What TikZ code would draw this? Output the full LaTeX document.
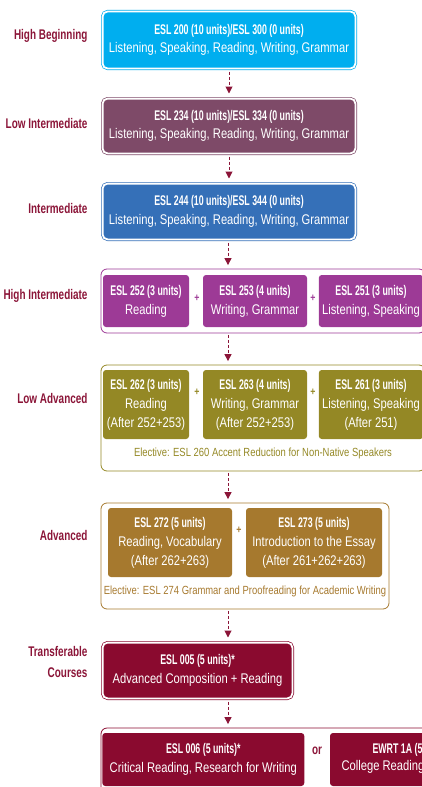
\documentclass[tikz,border=0pt]{standalone}
\usepackage{fontspec}
\setmainfont{Liberation Sans}[FakeStretch=0.8]
\newfontfamily\hdfont{Liberation Sans}[FakeStretch=0.63]
\newfontfamily\lbfont{Liberation Sans}[FakeStretch=0.71]
\usetikzlibrary{arrows.meta}
\definecolor{lvlred}{HTML}{8B1538}
\definecolor{hbblue}{HTML}{00AEEF}
\definecolor{limauve}{HTML}{7E4A68}
\definecolor{imblue}{HTML}{3570B8}
\definecolor{hipurple}{HTML}{9D3A96}
\definecolor{laolive}{HTML}{948825}
\definecolor{adgold}{HTML}{A6792E}
\definecolor{trred}{HTML}{8A0A2F}
\newcommand{\hd}[1]{{\hdfont\bfseries #1}}
\begin{document}
\begin{tikzpicture}[x=1pt,y=-1pt,
  single/.style={fill=#1,draw=#1,double=white,double distance=1.8pt,line width=0.7pt,
    rounded corners=5pt,outer sep=1.6pt,text=white,align=center,
    font=\fontsize{14}{18.5}\selectfont},
  group/.style={draw=#1,line width=0.8pt,rounded corners=6pt,outer sep=0.4pt},
  course/.style={fill=#1,rounded corners=3pt,text=white,align=center,
    font=\fontsize{14}{19}\selectfont},
  level/.style={anchor=east,text=lvlred,align=right,
    font=\lbfont\bfseries\fontsize{14}{21}\selectfont},
  flow/.style={draw=lvlred,line width=1pt,dash pattern=on 3pt off 2pt,
    -{Triangle[length=7pt,width=7pt]},shorten <=1.5pt,shorten >=3.5pt},
  elective/.style={text=#1,font=\fontsize{11.8}{14}\selectfont},
  plus/.style={text=#1,font=\bfseries\fontsize{11}{11}\selectfont}]
\useasboundingbox (0,0) rectangle (422,787);
\clip (0,0) rectangle (422,787);
\coordinate (axis) at (228,0);

% levels
\node[level] (lhb) at (91,36) {High Beginning};
\node[level] (lli) at (91,123) {Low Intermediate};
\node[level] (lim) at (91,208) {Intermediate};
\node[level] (lhi) at (91,296) {High Intermediate};
\node[level] (lla) at (91,398) {Low Advanced};
\node[level] (lad) at (91,535) {Advanced};
\node[level] (ltr) at (91,662) {Transferable\\Courses};

% single courses
\node[single=hbblue,minimum width=252.8pt,minimum height=57pt] (hb) at (229,40)
  {\hd{ESL 200 (10 units)/ESL 300 (0 units)}\\Listening, Speaking, Reading, Writing, Grammar};
\node[single=limauve,minimum width=252.8pt,minimum height=54.8pt] (li) at (229,126)
  {\hd{ESL 234 (10 units)/ESL 334 (0 units)}\\Listening, Speaking, Reading, Writing, Grammar};
\node[single=imblue,minimum width=252.8pt,minimum height=55.8pt] (im) at (229,211.5)
  {\hd{ESL 244 (10 units)/ESL 344 (0 units)}\\Listening, Speaking, Reading, Writing, Grammar};

% high intermediate
\node[group=hipurple,minimum width=324pt,minimum height=64pt] (hi) at (263,301) {};
\node[course=hipurple,minimum width=86pt,minimum height=52pt] (e252) at (146,301)
  {\hd{ESL 252 (3 units)}\\Reading};
\node[course=hipurple,minimum width=104pt,minimum height=52pt] (e253) at (255,301)
  {\hd{ESL 253 (4 units)}\\Writing, Grammar};
\node[course=hipurple,minimum width=104pt,minimum height=52pt] (e251) at (371,301)
  {\hd{ESL 251 (3 units)}\\Listening, Speaking};
\node[plus=hipurple] (hp1) at (197,298) {+};
\node[plus=hipurple] (hp2) at (313,298) {+};

% low advanced
\node[group=laolive,minimum width=324pt,minimum height=106pt] (la) at (263,418) {};
\node[course=laolive,minimum width=86pt,minimum height=69pt] (e262) at (146,404.5)
  {\hd{ESL 262 (3 units)}\\Reading\\(After 252+253)};
\node[course=laolive,minimum width=104pt,minimum height=69pt] (e263) at (255,404.5)
  {\hd{ESL 263 (4 units)}\\Writing, Grammar\\(After 252+253)};
\node[course=laolive,minimum width=104pt,minimum height=69pt] (e261) at (371,404.5)
  {\hd{ESL 261 (3 units)}\\Listening, Speaking\\(After 251)};
\node[plus=laolive] (lp1) at (197,392) {+};
\node[plus=laolive] (lp2) at (313,392) {+};
\node[elective=laolive] (e260) at (263,453)
  {Elective: ESL 260 Accent Reduction for Non-Native Speakers};

% advanced
\node[group=adgold,minimum width=288pt,minimum height=106pt] (ad) at (245,556) {};
\node[course=adgold,minimum width=124pt,minimum height=69pt] (e272) at (170,542.5)
  {\hd{ESL 272 (5 units)}\\Reading, Vocabulary\\(After 262+263)};
\node[course=adgold,minimum width=136pt,minimum height=69pt] (e273) at (314,542.5)
  {\hd{ESL 273 (5 units)}\\Introduction to the Essay\\(After 261+262+263)};
\node[plus=adgold] (ap) at (239,530) {+};
\node[elective=adgold] (e274) at (245,591)
  {Elective: ESL 274 Grammar and Proofreading for Academic Writing};

% transferable
\node[single=trred,minimum width=189.8pt,minimum height=55.8pt] (tr) at (197.5,670.5)
  {\hd{ESL 005 (5 units)*}\\Advanced Composition + Reading};
\node[group=trred,minimum width=444pt,minimum height=124pt] (fin) at (323,790) {};
\node[course=trred,minimum width=202pt,minimum height=53pt] (e006) at (203.3,759.5)
  {\hd{ESL 006 (5 units)*}\\Critical Reading, Research for Writing};
\node[course=trred,minimum width=220pt,minimum height=53pt] (ew1a) at (440,759.5) {};
\node[text=white,anchor=west,font=\fontsize{14}{14}\selectfont] (ew1) at (369,750) {\hd{EWRT 1A (5 units)}};
\node[text=white,anchor=west,font=\fontsize{14}{14}\selectfont] (ew2) at (338,767) {College Reading};
\node[text=lvlred,font=\lbfont\bfseries\fontsize{14}{14}\selectfont] (or) at (317,751) {or};

% arrows
\draw[flow] (hb) -- (li);
\draw[flow] (li) -- (im);
\draw[flow] (axis |- im.south) -- (axis |- hi.north);
\draw[flow] (axis |- hi.south) -- (axis |- la.north);
\draw[flow] (axis |- la.south) -- (axis |- ad.north);
\draw[flow] (axis |- ad.south) -- (axis |- tr.north);
\draw[flow] (axis |- tr.south) -- (axis |- fin.north);
\end{tikzpicture}
\end{document}
